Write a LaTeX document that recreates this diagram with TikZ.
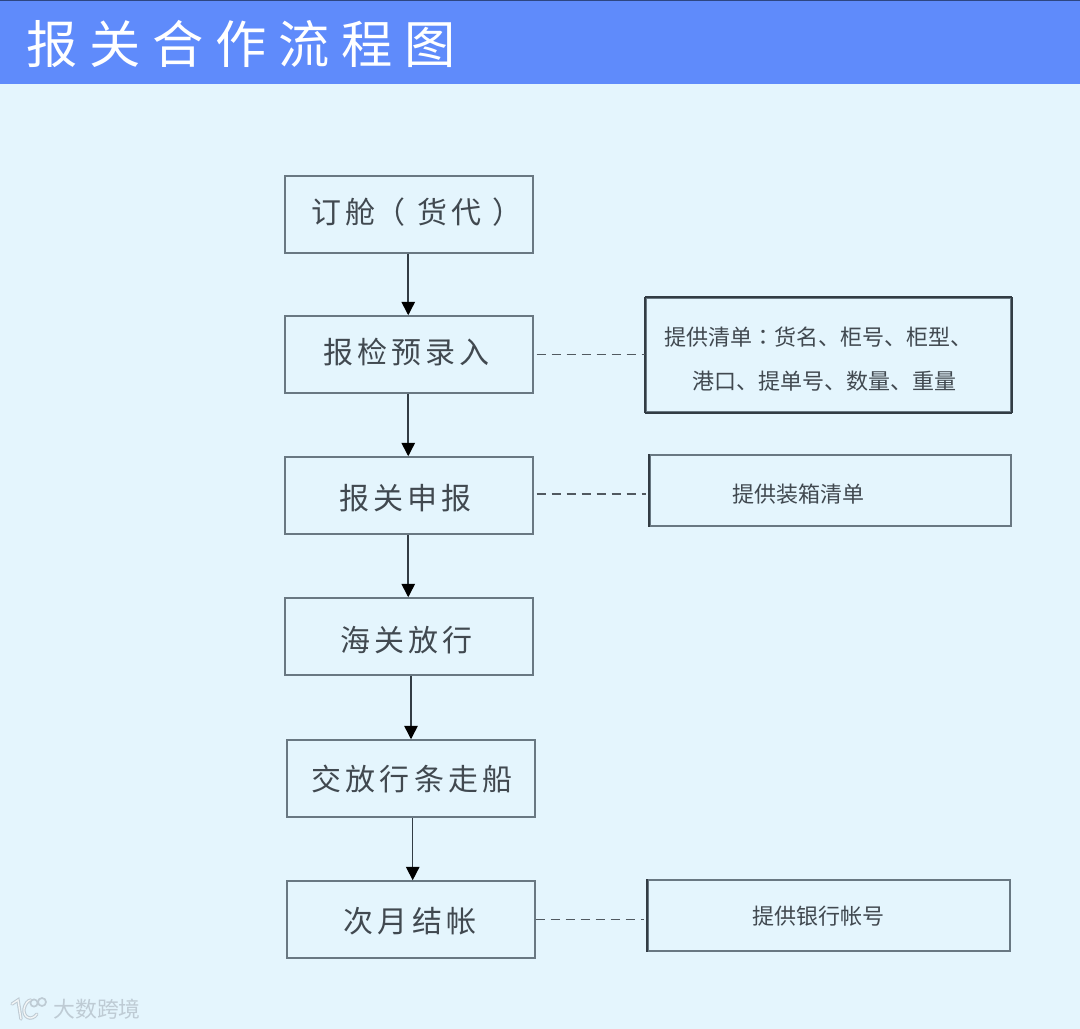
\documentclass[tikz,border=0pt]{standalone}
\usepackage{xcolor}
\usepackage{fontspec}
\usepackage{tikz}
\usetikzlibrary{arrows.meta}
\setmainfont{Noto Sans CJK SC}
\newfontfamily\titlefont[LetterSpace=23]{Noto Sans CJK SC}
\newfontfamily\stepfont[LetterSpace=14]{Noto Sans CJK SC}
\newfontfamily\stepmidfont[LetterSpace=14]{Noto Sans CJK TC}
\newfontfamily\midfont{Noto Sans CJK TC}
\definecolor{paper}{RGB}{228, 245, 253}
\definecolor{banner}{RGB}{95, 139, 251}
\definecolor{bannertop}{RGB}{45, 70, 130}
\definecolor{linecol}{RGB}{105, 120, 130}
\definecolor{edgecol}{RGB}{50, 60, 68}
\definecolor{inkcol}{RGB}{65, 73, 80}
\definecolor{markcol}{RGB}{190, 203, 212}
\tikzset{
  stepbox/.style={draw=linecol,line width=0.8pt,minimum width=4.593cm,minimum height=1.426cm,inner sep=0pt},
  steptext/.style={inner sep=0pt,text=inkcol,font=\stepfont\fontsize{15.8}{18}\selectfont},
  notebox/.style={draw=linecol,line width=0.8pt,inner sep=0pt},
  notetext/.style={text=inkcol,inner sep=0pt,font=\fontsize{11.6}{23.5}\selectfont},
  flow/.style={-{Triangle[length=7pt,width=7pt,color=black]},edgecol,line width=0.8pt},
  link/.style={edgecol!85,line width=0.95pt,dash pattern=on 4.8pt off 3.1pt}
}
\begin{document}
\begin{tikzpicture}[x=0.0185185cm,y=-0.0185185cm]
\fill[paper] (0,0) rectangle (1080,1029);
\useasboundingbox (0,0) rectangle (1080,1029);
\fill[banner] (0,0) rectangle (1080,84);
\fill[bannertop] (0,0) rectangle (1080,1);
\node[right,inner sep=0pt,text=white,font=\titlefont\fontsize{27}{30}\selectfont] (title) at (26,44) {报关合作流程图};
% main steps
\node[stepbox] (booking) at (409,214.5) {};
\node[stepbox] (inspect) at (409,354.5) {};
\node[stepbox] (declare) at (409,495.5) {};
\node[stepbox] (release) at (409,636.5) {};
\node[stepbox] (slip) at (411,778.5) {};
\node[stepbox] (monthly) at (411,919.5) {};
\node[steptext] (bookingtext) at (417,212.5) {订舱{\stepmidfont（}\hspace{6pt}货代\hspace{6pt}{\stepmidfont）}};
\node[steptext] (inspecttext) at (406.5,352.5) {报检预录入};
\node[steptext] (declaretext) at (405.5,498.5) {报关申报};
\node[steptext] (releasetext) at (406.5,640.5) {海关放行};
\node[steptext] (sliptext) at (412,779.5) {交放行条走船};
\node[steptext] (monthlytext) at (410,921.5) {次月结帐};
% side notes
\node[notebox,minimum width=6.76cm,minimum height=2.11cm] (listbox) at (828.5,355) {};
\node[notetext,anchor=west,align=left] (listtext) at (664,359) {提供清单{\midfont：}货名、柜号、柜型、\\\hspace*{14.7pt}港口、提单号、数量、重量};
\node[notebox,minimum width=6.685cm,minimum height=1.315cm] (packbox) at (830.5,490.5) {};
\node[notetext] (packtext) at (798.5,494) {提供装箱清单};
\node[notebox,minimum width=6.70cm,minimum height=1.315cm] (bankbox) at (829,915.5) {};
\node[notetext] (banktext) at (818.5,916) {提供银行帐号};
% heavier left and right sides
\draw[edgecol,line width=1.1pt] (listbox.north west) -- (listbox.south west);
\draw[edgecol,line width=1.1pt] (packbox.north west) -- (packbox.south west);
\draw[edgecol,line width=1.1pt] (bankbox.north west) -- (bankbox.south west);
\draw[edgecol,line width=1pt] (listbox.north east) -- (listbox.south east);
\draw[edgecol,line width=1pt] (listbox.north west) -- (listbox.north east);
\draw[edgecol,line width=1pt] (listbox.south west) -- (listbox.south east);
% arrows
\draw[flow] ([xshift=-0.4pt]booking.south) -- ([xshift=-0.4pt]inspect.north);
\draw[flow] ([xshift=-0.4pt]inspect.south) -- ([xshift=-0.4pt]declare.north);
\draw[flow] ([xshift=-0.4pt]declare.south) -- ([xshift=-0.4pt]release.north);
\draw[flow] (release.south -| slip.north) -- (slip.north);
\draw[flow] ([xshift=0.9pt]slip.south) -- ([xshift=0.9pt]monthly.north);
% dashed links
\draw[link] ([xshift=1.5pt]inspect.east) -- (inspect.east -| listbox.west);
\draw[link] ([xshift=1.5pt,yshift=0.9pt]declare.east) -- ([yshift=0.9pt,xshift=-1.9pt]declare.east -| packbox.west);
\draw[link] (monthly.east) -- ([xshift=-1.9pt]monthly.east -| bankbox.west);
% watermark
\draw[markcol,line width=1.8pt,line cap=round] (12,1004) -- (18,1000) -- (21,1019);
\draw[markcol,line width=1.8pt,line cap=round] (37,1014) .. controls (31,1022) and (23,1017) .. (24,1009) .. controls (25,1004) and (28,1000) .. (31,1000);
\draw[white!80!markcol,line width=0.7pt,line cap=round] (12,1004) -- (18,1000) -- (21,1019);
\draw[white!80!markcol,line width=0.7pt,line cap=round] (37,1014) .. controls (31,1022) and (23,1017) .. (24,1009) .. controls (25,1004) and (28,1000) .. (31,1000);
\draw[markcol,line width=0.9pt] (34,1003) circle (3.6);
\draw[markcol,line width=0.9pt] (42,1002) circle (4);
\node[right,inner sep=0pt,text=markcol,font=\fontsize{11.5}{13}\selectfont] (mark) at (53,1009) {大数跨境};
\end{tikzpicture}
\end{document}
